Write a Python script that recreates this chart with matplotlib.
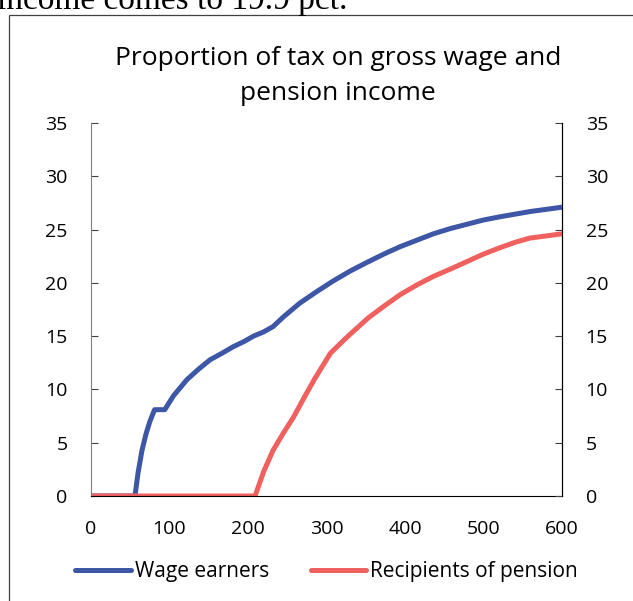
import matplotlib
matplotlib.use("Agg")
from matplotlib import pyplot as plt
from matplotlib.patches import Rectangle

plt.rcParams['font.family'] = ['Open Sans', 'DejaVu Sans']

# income (1000 NOK) and tax share (%)
wage_x = [0, 56, 60, 65, 70, 75, 81, 94, 105, 122, 137, 152, 167, 181, 195, 207, 220, 232,
          245, 266, 288, 309, 330, 351, 373, 394, 415, 436, 458, 479, 500, 521, 560, 600]
wage_y = [0, 0, 2.2, 4.3, 5.8, 7.0, 8.1, 8.1, 9.4, 10.9, 11.9, 12.8, 13.4, 14.0, 14.5, 15.0, 15.4, 15.9,
          16.8, 18.1, 19.2, 20.2, 21.1, 21.9, 22.7, 23.4, 24.0, 24.6, 25.1, 25.5, 25.9, 26.2, 26.7, 27.1]
pens_x = [0, 209, 220, 232, 245, 258, 272, 285, 305, 326, 353, 373, 394, 415, 436, 458, 479,
          500, 521, 540, 559, 600]
pens_y = [0, 0, 2.3, 4.3, 5.9, 7.4, 9.3, 11.0, 13.4, 14.9, 16.7, 17.8, 18.9, 19.8, 20.6, 21.3, 22.0,
          22.7, 23.3, 23.8, 24.2, 24.6]

blue = "#3D56A6"
red = "#F0605F"

fig = plt.figure(figsize=(6.33, 6.01), dpi=100)
fig.patches.append(Rectangle((9 / 633, -0.05), 1.0, 1 - 15 / 601 + 0.05, transform=fig.transFigure,
                             fill=False, edgecolor="#404040", linewidth=0.9))
fig.text(-0.005, 1 - 9 / 601, "income comes to 19.9 pct.", family="Liberation Serif", fontsize=24,
         ha="left", va="baseline")

ax = fig.add_axes([91 / 633, 1 - 496 / 601, (562 - 91) / 633, (496 - 123) / 601])
ax.plot(wage_x, wage_y, color=blue, lw=3.6, solid_capstyle="butt", label="Wage earners")
ax.plot(pens_x, pens_y, color=red, lw=3.6, solid_capstyle="butt", label="Recipients of pension")
ax.set_xlim(0, 600)
ax.set_ylim(0, 35)
ax.set_xticks(range(0, 601, 100))
ax.set_yticks(range(0, 36, 5))
ax.spines["top"].set_visible(False)
ax.spines["right"].set_color("black")
ax.spines["left"].set_color("#808080")
ax.spines["bottom"].set_color("black")
ax.tick_params(axis="x", length=0, pad=17, labelsize=14)
ax.tick_params(axis="y", direction="in", length=5, color="#404040", pad=17, labelsize=14)

ax2 = ax.twinx()
ax2.set_ylim(0, 35)
ax2.set_yticks(range(0, 36, 5))
ax2.spines["top"].set_visible(False)
ax2.spines["left"].set_visible(False)
ax2.spines["bottom"].set_visible(False)
ax2.spines["right"].set_color("black")
ax2.tick_params(axis="y", direction="in", length=5, color="#404040", pad=17, labelsize=14)

fig.text(338 / 633, 1 - 76 / 601, "Proportion of tax on gross wage and\npension income",
         ha="center", va="center", fontsize=19, linespacing=1.5)

leg = ax.legend(loc="center", bbox_to_anchor=(0.5, -0.203), ncol=2, frameon=False, fontsize=15,
                handlelength=2.65, handletextpad=0.2, columnspacing=2.0)
for h in leg.legend_handles:
    h.set_solid_capstyle("round")

fig.savefig("out.png", dpi=100)
